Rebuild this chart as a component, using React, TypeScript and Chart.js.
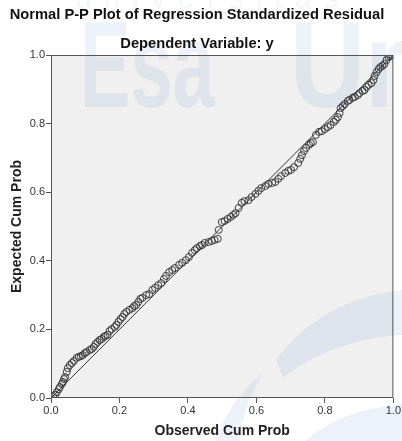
import React, { useEffect, useRef } from "react";
import { Chart, registerables } from "chart.js";

Chart.register(...registerables);

const chartTitle = "Normal P-P Plot of Regression Standardized Residual";
const chartSubtitle = "Dependent Variable: y";
const xAxisTitle = "Observed Cum Prob";
const yAxisTitle = "Expected Cum Prob";
const watermarkTop = "universitas";
const watermarkWord1 = "Esa";
const watermarkWord2 = "Unggul";

const observedCumProb = [
  0, 0.006, 0.012, 0.017, 0.023, 0.026, 0.032, 0.035, 0.038, 0.041, 0.046, 0.049, 0.055, 0.061, 0.067,
  0.075, 0.081, 0.087, 0.093, 0.099, 0.104, 0.113, 0.119, 0.125, 0.13, 0.136, 0.142, 0.148, 0.154, 0.159,
  0.165, 0.171, 0.177, 0.186, 0.191, 0.197, 0.203, 0.209, 0.214, 0.22, 0.229, 0.238, 0.243, 0.249, 0.255,
  0.261, 0.267, 0.278, 0.287, 0.296, 0.304, 0.313, 0.322, 0.33, 0.336, 0.345, 0.354, 0.362, 0.374, 0.383,
  0.394, 0.403, 0.412, 0.42, 0.426, 0.435, 0.441, 0.449, 0.461, 0.47, 0.478, 0.487, 0.49, 0.499, 0.507,
  0.516, 0.525, 0.533, 0.539, 0.548, 0.557, 0.565, 0.577, 0.586, 0.597, 0.606, 0.614, 0.626, 0.635, 0.646,
  0.655, 0.664, 0.672, 0.684, 0.693, 0.701, 0.71, 0.722, 0.728, 0.733, 0.739, 0.745, 0.754, 0.759, 0.765,
  0.774, 0.783, 0.791, 0.8, 0.809, 0.817, 0.826, 0.832, 0.838, 0.843, 0.846, 0.852, 0.858, 0.867, 0.872,
  0.881, 0.887, 0.896, 0.901, 0.91, 0.916, 0.922, 0.928, 0.936, 0.942, 0.945, 0.951, 0.957, 0.962, 0.968,
  0.974, 0.98, 0.986, 0.991, 0.997,
];

const expectedCumProb = [
  0, 0.006, 0.009, 0.017, 0.026, 0.032, 0.041, 0.047, 0.055, 0.061, 0.076, 0.087, 0.096, 0.102, 0.108,
  0.117, 0.12, 0.122, 0.125, 0.131, 0.134, 0.14, 0.143, 0.149, 0.157, 0.163, 0.169, 0.172, 0.178, 0.181,
  0.184, 0.195, 0.201, 0.207, 0.213, 0.222, 0.23, 0.236, 0.245, 0.251, 0.257, 0.262, 0.268, 0.271, 0.28,
  0.289, 0.292, 0.3, 0.303, 0.315, 0.321, 0.329, 0.335, 0.347, 0.356, 0.367, 0.373, 0.379, 0.388, 0.394,
  0.402, 0.411, 0.423, 0.431, 0.437, 0.443, 0.446, 0.452, 0.455, 0.458, 0.461, 0.464, 0.49, 0.513, 0.516,
  0.522, 0.528, 0.534, 0.539, 0.554, 0.569, 0.574, 0.577, 0.586, 0.595, 0.604, 0.612, 0.618, 0.624, 0.627,
  0.63, 0.639, 0.647, 0.656, 0.662, 0.665, 0.673, 0.685, 0.697, 0.708, 0.72, 0.729, 0.738, 0.743, 0.746,
  0.767, 0.776, 0.778, 0.784, 0.79, 0.796, 0.805, 0.811, 0.819, 0.831, 0.845, 0.851, 0.857, 0.866, 0.869,
  0.875, 0.878, 0.883, 0.889, 0.895, 0.898, 0.907, 0.913, 0.918, 0.927, 0.939, 0.95, 0.959, 0.965, 0.968,
  0.974, 0.985, 0.994, 0.997, 1.0,
];

const referenceX = [0, 1];
const referenceY = [0, 1];

const FONT = "'Liberation Sans', Arial, sans-serif";
const WM = "rgba(100,140,210,0.12)";

const framePlugin = {
  id: "frameAndTitles",
  beforeDraw(chart: any) {
    const { ctx, chartArea } = chart;
    ctx.save();
    ctx.fillStyle = "#ffffff";
    ctx.fillRect(0, 0, chart.width, chart.height);
    ctx.fillStyle = "#f0f0f0";
    ctx.fillRect(chartArea.left, chartArea.top, chartArea.right - chartArea.left, chartArea.bottom - chartArea.top);
    // faint watermark
    ctx.fillStyle = WM;
    ctx.font = `bold 122px ${FONT}`;
    ctx.textBaseline = "alphabetic";
    ctx.save();
    ctx.translate(80, 107);
    ctx.scale(0.62, 1);
    ctx.fillText(watermarkWord1, 0, 0);
    ctx.restore();
    ctx.save();
    ctx.translate(290, 107);
    ctx.scale(0.85, 1);
    ctx.fillText(watermarkWord2, 0, 0);
    ctx.restore();
    ctx.fillStyle = "rgba(100,140,210,0.08)";
    ctx.font = `30px ${FONT}`;
    try { (ctx as any).letterSpacing = "12px"; } catch (e) {}
    ctx.fillText(watermarkTop, 75, 8);
    try { (ctx as any).letterSpacing = "0px"; } catch (e) {}
    ctx.fillStyle = WM;
    ctx.beginPath();
    ctx.moveTo(276, 360);
    ctx.quadraticCurveTo(320, 300, 402, 290);
    ctx.lineTo(402, 335);
    ctx.quadraticCurveTo(330, 340, 283, 378);
    ctx.closePath();
    ctx.fill();
    ctx.beginPath();
    ctx.moveTo(215, 441);
    ctx.quadraticCurveTo(230, 400, 262, 374);
    ctx.lineTo(258, 382);
    ctx.quadraticCurveTo(242, 410, 240, 441);
    ctx.closePath();
    ctx.fill();
    ctx.beginPath();
    ctx.moveTo(305, 441);
    ctx.quadraticCurveTo(340, 410, 402, 404);
    ctx.lineTo(402, 441);
    ctx.closePath();
    ctx.fill();
    ctx.restore();
  },
  afterDraw(chart: any) {
    const { ctx, chartArea } = chart;
    ctx.save();
    ctx.strokeStyle = "#555555";
    ctx.lineWidth = 1;
    ctx.strokeRect(chartArea.left + 0.5, chartArea.top + 0.5, chartArea.right - chartArea.left - 1, chartArea.bottom - chartArea.top - 1);
    ctx.fillStyle = "#111111";
    ctx.textAlign = "center";
    ctx.textBaseline = "middle";
    ctx.font = `bold 14.7px ${FONT}`;
    ctx.fillText(chartTitle, 197, 15);
    ctx.fillText(chartSubtitle, 197, 44);
    ctx.restore();
  },
};

export default function App() {
  const ref = useRef<HTMLCanvasElement | null>(null);
  useEffect(() => {
    if (!ref.current) return;
    const points = observedCumProb.map((x, i) => ({ x, y: expectedCumProb[i] }));
    const refLine = referenceX.map((x, i) => ({ x, y: referenceY[i] }));
    const tickOpts = {
      color: "#333333",
      font: { family: FONT, size: 11 },
      padding: 1,
      stepSize: 0.2,
      callback: (v: any) => Number(v).toFixed(1),
    };
    const chart = new Chart(ref.current, {
      type: "scatter",
      data: {
        datasets: [
          {
            type: "line",
            data: refLine,
            borderColor: "#333333",
            borderWidth: 1,
            pointRadius: 0,
            fill: false,
          } as any,
          {
            data: points,
            pointRadius: 3.5,
            pointBorderWidth: 1,
            pointBorderColor: "rgba(45,45,45,0.9)",
            pointBackgroundColor: "rgba(0,0,0,0)",
          },
        ],
      },
      options: {
        responsive: false,
        animation: false,
        devicePixelRatio: 1,
        layout: { padding: { left: 0, top: 55, right: 6, bottom: 0 } },
        plugins: { legend: { display: false }, tooltip: { enabled: false }, title: { display: false } },
        scales: {
          x: {
            type: "linear",
            min: 0,
            max: 1,
            afterFit: (s: any) => { s.height = 43; },
            grid: { drawOnChartArea: false, drawTicks: true, tickLength: 5, tickColor: "#555555" },
            border: { display: false },
            ticks: tickOpts as any,
            title: { display: true, text: xAxisTitle, color: "#222222", font: { family: FONT, size: 14, weight: "bold" }, padding: { top: 0, bottom: 1 } },
          },
          y: {
            type: "linear",
            min: 0,
            max: 1,
            afterFit: (s: any) => { s.width = 51; },
            grid: { drawOnChartArea: false, drawTicks: true, tickLength: 5, tickColor: "#555555" },
            border: { display: false },
            ticks: tickOpts as any,
            title: { display: true, text: yAxisTitle, color: "#222222", font: { family: FONT, size: 14, weight: "bold" }, padding: { top: 9, bottom: 0 } },
          },
        },
      },
      plugins: [framePlugin],
    });
    return () => chart.destroy();
  }, []);
  return (
    <div style={{ position: "absolute", left: 0, top: 0, width: 402, height: 441 }}>
      <canvas ref={ref} width={402} height={441} style={{ width: 402, height: 441, display: "block" }} />
    </div>
  );
}
